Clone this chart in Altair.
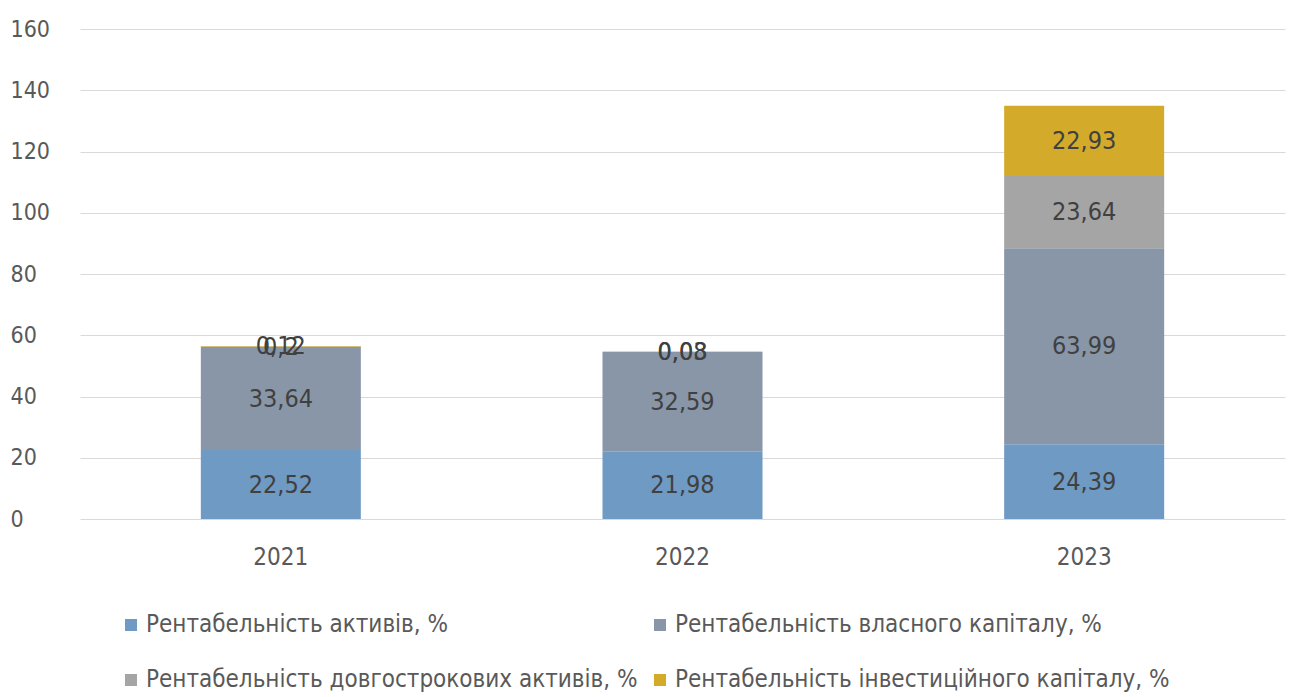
import altair as alt
import pandas as pd

years = ["2021", "2022", "2023"]
series = [
    "Рентабельність активів, %",
    "Рентабельність власного капіталу, %",
    "Рентабельність довгострокових активів, %",
    "Рентабельність інвестиційного капіталу, %",
]
colors = ["#6F9AC4", "#8896A8", "#A5A5A5", "#D4AA2B"]
roa = [22.52, 21.98, 24.39]
roe = [33.64, 32.59, 63.99]
rlta = [0.2, 0.03, 23.64]
ric = [0.12, 0.08, 22.93]

rows = []
for si, (name, vals) in enumerate(zip(series, [roa, roe, rlta, ric])):
    for y, v in zip(years, vals):
        rows.append({"year": y, "series": name, "value": v, "ord": si})
df = pd.DataFrame(rows)

FONT = "Liberation Sans Narrow, DejaVu Sans Condensed, Roboto, sans-serif"

base = alt.Chart(df).transform_stack(
    stack="value", groupby=["year"], as_=["y0", "y1"], sort=[alt.SortField("ord", order="ascending")]
).transform_calculate(
    mid="(datum.y0 + datum.y1) / 2",
    lab="replace(toString(datum.value), '.', ',')",
)

x_enc = alt.X("year:N", title=None, sort=years,
              scale=alt.Scale(paddingInner=0, paddingOuter=0),
              axis=alt.Axis(labelAngle=0, ticks=False, domain=False, labelFontSize=24,
                            labelColor="#595959", labelFont=FONT, labelPadding=26))

bars = base.mark_bar(size=160).encode(
    x=x_enc,
    y=alt.Y("y0:Q", title=None, scale=alt.Scale(domain=[0, 160]),
            axis=alt.Axis(values=list(range(0, 161, 20)), ticks=False, tickSize=0, domain=False,
                          gridColor="#D9D9D9", gridWidth=1, labelFontSize=23,
                          labelColor="#595959", labelFont=FONT, labelAlign="left",
                          labelPadding=70)),
    y2="y1:Q",
    color=alt.Color("series:N", sort=series, scale=alt.Scale(domain=series, range=colors),
                    legend=alt.Legend(title=None, orient="none", legendX=39, legendY=584,
                                      columns=2, symbolType="square", symbolSize=144,
                                      labelFontSize=24, labelFont=FONT, labelColor="#595959",
                                      rowPadding=31, columnPadding=10, labelLimit=700,
                                      labelOffset=3, direction="horizontal")),
    order=alt.Order("ord:Q"),
)

texts = base.mark_text(fontSize=25, font=FONT, color="#404040").encode(
    x=alt.X("year:N", sort=years),
    y=alt.Y("mid:Q"),
    text="lab:N",
)

chart = (bars + texts).properties(
    width=1205, height=490,
    autosize=alt.AutoSizeParams(type="none"),
    padding={"left": 80, "top": 29, "right": 6, "bottom": 178},
).configure(background="white").configure_view(strokeWidth=0, stroke=None)

chart.save("out.html", embed_options={"renderer": "svg", "actions": False})
